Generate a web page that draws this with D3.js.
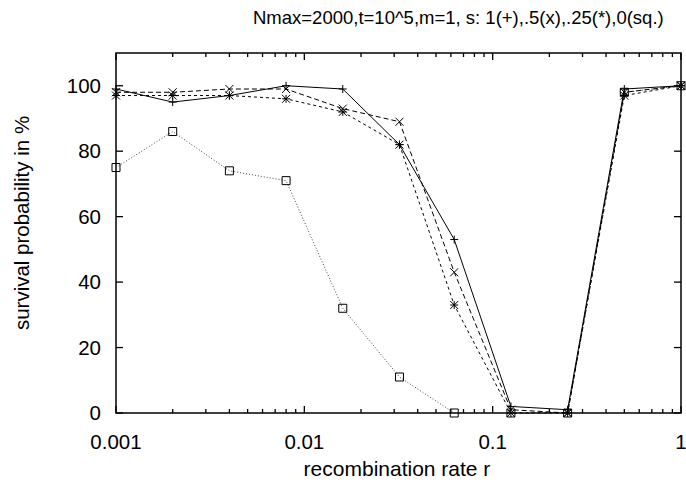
<!DOCTYPE html>
<html>
<head>
<meta charset="utf-8">
<script src="https://cdn.jsdelivr.net/npm/d3@7"></script>
<style>
  body { margin: 0; background: #fff; }
  text { font-family: "Liberation Sans", Arial, sans-serif; fill: #000; }
</style>
</head>
<body>
<div id="chart"></div>
<script>
const rates = [0.001, 0.002, 0.004, 0.008, 0.016, 0.032, 0.0625, 0.125, 0.25, 0.5, 1];
const surv_s1 = [99, 95, 97, 100, 99, 82, 53, 2, 1, 99, 100];
const surv_s05 = [98, 98, 99, 99, 93, 89, 43, 1, 0, 98, 100];
const surv_s025 = [97, 97, 97, 96, 92, 82, 33, 0, 0, 97, 100];
const surv_s0 = [75, 86, 74, 71, 32, 11, 0, 0, 0, 98, 100];
const xTicks = [0.001, 0.01, 0.1, 1];
const yTicks = [0, 20, 40, 60, 80, 100];

let margin = {top: 53, right: 5, bottom: 77, left: 116};
let width = 681 - margin.left;
let height = 413 - margin.top;

let svg = d3.select('#chart').append('svg')
    .attr('width', 686)
    .attr('height', 490)
    .append('g')
    .attr('transform', 'translate(' + margin.left + ',' + margin.top + ')');

let x = d3.scaleLog().domain([0.001, 1]).range([0, width]);
let y = d3.scaleLinear().domain([0, 110]).range([height, 0]);

// minor ticks for the log axis
let minor = [];
[0.001, 0.01, 0.1].forEach(function(d) {
    for (let k = 2; k <= 9; k++) minor.push(d * k);
});

let ticks = svg.append('g').attr('stroke', '#000').attr('stroke-width', 1.3);
xTicks.forEach(function(d) { // major x ticks, bottom and top
    ticks.append('line').attr('x1', x(d)).attr('x2', x(d)).attr('y1', height).attr('y2', height - 7);
    ticks.append('line').attr('x1', x(d)).attr('x2', x(d)).attr('y1', 0).attr('y2', 7);
});
minor.forEach(function(d) {
    ticks.append('line').attr('x1', x(d)).attr('x2', x(d)).attr('y1', height).attr('y2', height - 4);
    ticks.append('line').attr('x1', x(d)).attr('x2', x(d)).attr('y1', 0).attr('y2', 4);
});
yTicks.forEach(function(d) {
    ticks.append('line').attr('x1', 0).attr('x2', 7).attr('y1', y(d)).attr('y2', y(d));
    ticks.append('line').attr('x1', width).attr('x2', width - 7).attr('y1', y(d)).attr('y2', y(d));
});

svg.append('rect') // frame
    .attr('x', 0).attr('y', 0)
    .attr('width', width).attr('height', height)
    .attr('fill', 'none')
    .attr('stroke', '#000')
    .attr('stroke-width', 1.5);

svg.selectAll('.xlab').data(xTicks).enter().append('text')
    .attr('x', function(d) { return x(d); })
    .attr('y', height + 36)
    .attr('text-anchor', 'middle')
    .attr('font-size', 20.5)
    .text(function(d) { return d3.format('')(d); });
svg.selectAll('.ylab').data(yTicks).enter().append('text')
    .attr('x', -15)
    .attr('y', function(d) { return y(d) + 7; })
    .attr('text-anchor', 'end')
    .attr('font-size', 20.5)
    .text(function(d) { return d; });

let series = [
    {vals: surv_s1, dash: null, color: '#000', mark: 'plus'},
    {vals: surv_s05, dash: '5,3', color: '#000', mark: 'cross'},
    {vals: surv_s025, dash: '3,3', color: '#000', mark: 'star'},
    {vals: surv_s0, dash: '1,2', color: '#444', mark: 'square'}
];

let line = d3.line()
    .x(function(d) { return x(d[0]); })
    .y(function(d) { return y(d[1]); });

function marker(g, kind, px, py) {
    let r = 4;
    let p = '';
    if (kind === 'plus' || kind === 'star')
        p += 'M' + (px - r) + ',' + py + 'H' + (px + r) + 'M' + px + ',' + (py - r) + 'V' + (py + r);
    if (kind === 'cross' || kind === 'star')
        p += 'M' + (px - r) + ',' + (py - r) + 'L' + (px + r) + ',' + (py + r) +
             'M' + (px - r) + ',' + (py + r) + 'L' + (px + r) + ',' + (py - r);
    if (kind === 'square')
        p = 'M' + (px - 4) + ',' + (py - 4) + 'h8v8h-8z';
    g.append('path').attr('d', p).attr('fill', 'none')
        .attr('stroke', '#000').attr('stroke-width', 1);
}

series.slice().reverse().forEach(function(s) {
    let pts = rates.map(function(r, i) { return [r, s.vals[i]]; });
    svg.append('path').datum(pts)
        .attr('fill', 'none')
        .attr('stroke', s.color)
        .attr('stroke-width', 1)
        .attr('stroke-dasharray', s.dash)
        .attr('d', line);
    let g = svg.append('g');
    pts.forEach(function(d) { marker(g, s.mark, x(d[0]), y(d[1])); });
});

svg.append('text') // title
    .attr('x', 253 - margin.left)
    .attr('y', 24 - margin.top)
    .attr('font-size', 18.5)
    .text('Nmax=2000,t=10^5,m=1, s: 1(+),.5(x),.25(*),0(sq.)');
svg.append('text') // x label
    .attr('x', 397 - margin.left)
    .attr('y', height + 63)
    .attr('text-anchor', 'middle')
    .attr('font-size', 21)
    .text('recombination rate r');
svg.append('text') // y label
    .attr('transform', 'rotate(-90)')
    .attr('x', -(223 - margin.top))
    .attr('y', 29 - margin.left)
    .attr('text-anchor', 'middle')
    .attr('font-size', 20.5)
    .text('survival probability in %');
</script>
</body>
</html>
